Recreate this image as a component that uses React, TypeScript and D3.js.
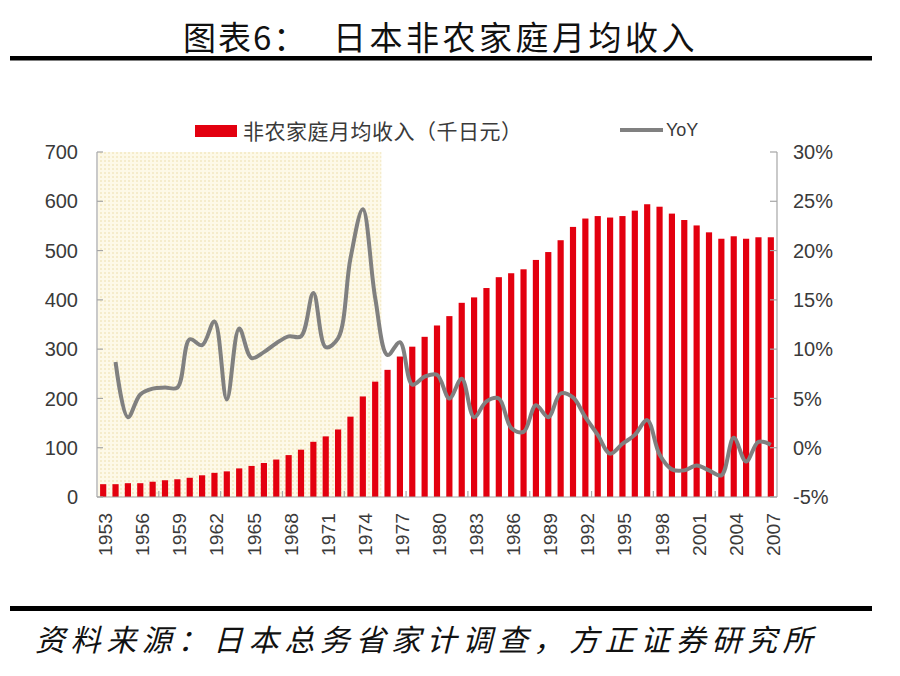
import React from "react";
import * as d3 from "d3";

const years: number[] = d3.range(1953, 2008);
const income: number[] = [
  26, 26, 28, 28, 31, 34, 36, 39, 44, 49, 52, 58, 63, 69, 76, 85, 96, 112, 123, 137,
  163, 204, 234, 258, 285, 305, 325, 348, 367, 394, 405, 424, 446, 454, 462, 481,
  497, 521, 548, 565, 570, 567, 570, 581, 594, 589, 575, 562, 551, 537, 524, 529,
  524, 527, 527,
];
const yoyYears: number[] = d3.range(1954, 2008);
const yoy: number[] = [
  8.7, 3.1, 5.4, 6.0, 6.1, 6.1, 11.0, 10.4, 12.8, 4.9, 12.1, 9.1, 9.7, 10.6, 11.3, 11.3,
  15.7, 10.2, 11.1, 19.2, 24.2, 15.2, 9.4, 10.7, 6.4, 7.2, 7.4, 5.0, 7.0, 3.1, 4.7, 5.0,
  2.0, 1.6, 4.3, 3.1, 5.5, 5.1, 3.1, 1.3, -0.6, 0.4, 1.3, 2.8, -0.7, -2.2, -2.3, -1.8,
  -2.3, -2.8, 1.0, -1.4, 0.6, 0.3,
];
const leftTicks: number[] = [0, 100, 200, 300, 400, 500, 600, 700];
const rightTicks: number[] = [-5, 0, 5, 10, 15, 20, 25, 30];
const labelYears: number[] = years.filter((y) => (y - 1953) % 3 === 0);
const shadeStart = 1953;
const shadeEnd = 1975;

const title1 = "图表6：";
const title2 = "日本非农家庭月均收入";
const legendBar = "非农家庭月均收入（千日元）";
const legendLine = "YoY";
const source = "资料来源：日本总务省家计调查，方正证券研究所";

export default function App() {
  const left = 97, right = 777, top = 152, bottom = 497;
  const x = d3
    .scaleBand<number>()
    .domain(years)
    .range([left, right])
    .paddingInner(0.5)
    .paddingOuter(0.25);
  const yL = d3.scaleLinear().domain([0, 700]).range([bottom, top]);
  const yR = d3.scaleLinear().domain([-5, 30]).range([bottom, top]);
  const cx = (yr: number) => (x(yr) as number) + x.bandwidth() / 2;
  const step = x.step();

  const line = d3
    .line<number>()
    .x((_, i) => cx(yoyYears[i]))
    .y((d) => yR(d))
    .curve(d3.curveCatmullRom.alpha(0.5));

  const shadeX0 = (x(shadeStart) as number) - step * 0.25;
  const shadeX1 = (x(shadeEnd) as number) + x.bandwidth() + step * 0.25;

  const axisColor = "#a6a6a6";
  const textColor = "#3a3a3a";
  const latin = "'Liberation Sans', Arial, sans-serif";
  const cjk = "'Noto Sans CJK SC', sans-serif";

  return (
    <svg
      width={900}
      height={676}
      style={{ position: "absolute", left: 0, top: 0, background: "#fff" }}
    >
      <defs>
        <pattern id="dots" width={4} height={4} patternUnits="userSpaceOnUse">
          <rect width={4} height={4} fill="#fdf9e8" />
          <circle cx={1} cy={1} r={0.8} fill="#ecdca6" />
        </pattern>
      </defs>
      <rect width={900} height={676} fill="#fff" />

      {/* Title */}
      <text x={183} y={50} fontFamily={cjk} fontSize={33} letterSpacing={2} fill="#111">
        {title1}
      </text>
      <text x={333} y={50} fontFamily={cjk} fontSize={33} letterSpacing={3.5} fill="#111">
        {title2}
      </text>
      <rect x={10} y={56} width={862} height={4.5} fill="#000" />

      {/* Shaded region */}
      <rect x={shadeX0 + 1} y={top} width={shadeX1 - shadeX0 - 1} height={bottom - top} fill="url(#dots)" />

      {/* Bars */}
      {years.map((yr, i) => (
        <rect
          key={yr}
          x={x(yr)}
          y={yL(income[i])}
          width={x.bandwidth()}
          height={bottom - yL(income[i])}
          fill="#e3000f"
        />
      ))}

      {/* Axes */}
      <line x1={left} y1={top} x2={left} y2={bottom} stroke={axisColor} strokeWidth={1.2} />
      <line x1={right} y1={top} x2={right} y2={bottom} stroke={axisColor} strokeWidth={1.2} />
      <line x1={left} y1={bottom} x2={right} y2={bottom} stroke={axisColor} strokeWidth={1.2} />
      {leftTicks.map((t) => (
        <g key={"l" + t}>
          <line x1={left} x2={left + 6} y1={yL(t)} y2={yL(t)} stroke={axisColor} strokeWidth={1.2} />
          <text
            x={78}
            y={yL(t)}
            dy="0.36em"
            textAnchor="end"
            fontFamily={latin}
            fontSize={20}
            fill={textColor}
          >
            {t}
          </text>
        </g>
      ))}
      {rightTicks.map((t) => (
        <g key={"r" + t}>
          <line x1={right - 7} x2={right} y1={yR(t)} y2={yR(t)} stroke={axisColor} strokeWidth={1.2} />
          <text
            x={793}
            y={yR(t)}
            dy="0.36em"
            textAnchor="start"
            fontFamily={latin}
            fontSize={20}
            fill={textColor}
          >
            {t + "%"}
          </text>
        </g>
      ))}
      {years
        .map((_, i) => i)
        .filter((i) => i > 0 && i % 5 === 0)
        .map((i) => (
          <line
            key={"xt" + i}
            x1={left + step * i}
            x2={left + step * i}
            y1={bottom}
            y2={bottom - 6}
            stroke={axisColor}
            strokeWidth={1.2}
          />
        ))}
      {labelYears.map((yr) => (
        <text
          key={"xl" + yr}
          transform={`translate(${cx(yr) + 9},513) rotate(-90)`}
          textAnchor="end"
          fontFamily={latin}
          fontSize={19}
          textLength={43}
          lengthAdjust="spacingAndGlyphs"
          fill={textColor}
        >
          {yr}
        </text>
      ))}

      {/* YoY line */}
      <path d={line(yoy) || ""} fill="none" stroke="#808080" strokeWidth={4} strokeLinejoin="round" />

      {/* Legend */}
      <rect x={195} y={125} width={42} height={12} fill="#e3000f" />
      <text x={243} y={131} dy="0.36em" fontFamily={cjk} fontSize={21} letterSpacing={0.5} fill={textColor}>
        {legendBar}
      </text>
      <line x1={620} x2={663} y1={130} y2={130} stroke="#808080" strokeWidth={4} />
      <text x={666} y={130} dy="0.36em" fontFamily={latin} fontSize={18} fill={textColor}>
        {legendLine}
      </text>

      {/* Footer */}
      <rect x={10} y={606} width={862} height={5} fill="#000" />
      <text
        x={35}
        y={651}
        fontFamily={cjk}
        fontSize={30}
        fontStyle="italic"
        letterSpacing={5.6}
        fill="#111"
      >
        {source}
      </text>
    </svg>
  );
}
